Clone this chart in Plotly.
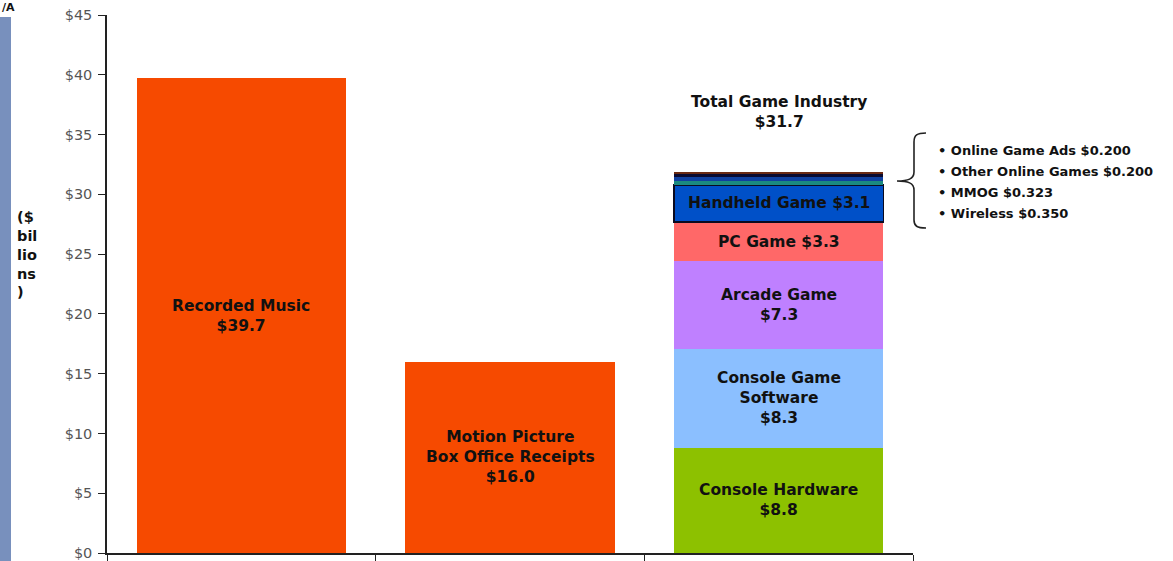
import plotly.graph_objects as go

# Entertainment revenues, $ billions
categories = ["Recorded Music", "Motion Picture Box Office Receipts", "Total Game Industry"]
media_values = [39.7, 16.0]
media_labels = ["Recorded Music<br>$39.7", "Motion Picture<br>Box Office Receipts<br>$16.0"]

game_segments = ["Console Hardware", "Console Game Software", "Arcade Game", "PC Game",
                 "Handheld Game", "Wireless", "MMOG", "Other Online Games", "Online Game Ads"]
game_values = [8.8, 8.3, 7.3, 3.3, 3.1, 0.350, 0.323, 0.200, 0.200]
game_colors = ["#8dc100", "#8bbfff", "#bf80ff", "#ff6868", "#0050c8",
               "#1a8a80", "#1040a0", "#0a0a30", "#6b2a12"]
game_labels = ["Console Hardware<br>$8.8", "Console Game<br>Software<br>$8.3",
               "Arcade Game<br>$7.3", "PC Game $3.3", "Handheld Game $3.1"]
online_items = ["Online Game Ads $0.200", "Other Online Games $0.200",
                "MMOG $0.323", "Wireless $0.350"]
game_total = 31.7

y_ticks = [0, 5, 10, 15, 20, 25, 30, 35, 40, 45]

FONT = "DejaVu Sans"
W, H = 1173, 561
L, R, T, B = 107, 260, 15, 8
plot_w = W - L - R
y_top_px, y_bot_px = T, H - B

fig = go.Figure()

fig.add_trace(go.Bar(
    x=categories[:2], y=media_values, marker=dict(color="#f64a00", line=dict(width=0)),
    width=0.78, hoverinfo="skip", showlegend=False,
))

for name, val, col in zip(game_segments, game_values, game_colors):
    line = dict(color="#0a0a20", width=1.5) if name == "Handheld Game" else dict(width=0)
    fig.add_trace(go.Bar(
        x=[categories[2]], y=[val], name=name, marker=dict(color=col, line=line),
        width=0.78, hoverinfo="skip", showlegend=False,
    ))

annotations = []
label_font = dict(family=FONT, size=15.5, color="#111111")

# labels centred in the two media bars
for cat, val, txt in zip(categories[:2], media_values, media_labels):
    annotations.append(dict(x=cat, y=val / 2, text="<b>%s</b>" % txt, showarrow=False,
                            font=label_font, xref="x", yref="y"))

# labels centred in the main game segments
base = 0.0
for val, txt in zip(game_values, game_labels):
    annotations.append(dict(x=categories[2], y=base + val / 2, text="<b>%s</b>" % txt,
                            showarrow=False, font=label_font, xref="x", yref="y"))
    base += val

stack_top = sum(game_values)
annotations.append(dict(x=categories[2], y=stack_top, yshift=60, yanchor="middle",
                        text="<b>Total Game Industry<br>$%.1f</b>" % game_total,
                        showarrow=False, font=label_font, xref="x", yref="y"))


def px_to_paper_x(px):
    return (px - L) / plot_w


def px_to_paper_y(py):
    return (y_bot_px - py) / (y_bot_px - y_top_px)


# bulleted list of the small online / wireless segments
for k, item in enumerate(online_items):
    annotations.append(dict(x=px_to_paper_x(936), y=px_to_paper_y(150 + k * 21.3),
                            xref="paper", yref="paper", xanchor="left", yanchor="middle",
                            text="<b>\u2022 %s</b>" % item, showarrow=False,
                            font=dict(family=FONT, size=13, color="#111111")))

# y-axis title, broken into short lines
annotations.append(dict(x=px_to_paper_x(15), y=px_to_paper_y(254), xref="paper", yref="paper",
                        xanchor="left", yanchor="middle", align="left",
                        text="<b>($<br>bil<br>lio<br>ns<br>)</b>", showarrow=False,
                        font=dict(family=FONT, size=14.5, color="#111111")))

annotations.append(dict(x=px_to_paper_x(0), y=px_to_paper_y(8), xref="paper", yref="paper",
                        xanchor="left", yanchor="middle", text="<b>/A</b>", showarrow=False,
                        font=dict(family=FONT, size=11, color="#111111")))

# curly brace pointing at the thin top segments
bx = px_to_paper_x
by = px_to_paper_y
brace = (
    "M {a},{t} C {b},{t} {c},{t1} {c},{t2} "
    "L {c},{m1} C {c},{mm} {d},{mid} {tip},{mid} "
    "C {d},{mid} {c},{mm2} {c},{m2} "
    "L {c},{b2} C {c},{b1} {b},{bt} {a},{bt}"
).format(a=bx(926), b=bx(917), c=bx(914), d=bx(908), tip=bx(897),
         t=by(133), t1=by(135), t2=by(142), m1=by(172), mm=by(179), mid=by(181),
         mm2=by(183), m2=by(190), b2=by(220), b1=by(226), bt=by(228))

shapes = [
    dict(type="rect", xref="paper", yref="paper", x0=px_to_paper_x(0), x1=px_to_paper_x(11),
         y0=px_to_paper_y(561), y1=px_to_paper_y(17), fillcolor="#7890bd", line=dict(width=0),
         layer="below"),
    dict(type="path", xref="paper", yref="paper", path=brace,
         line=dict(color="#222222", width=1.6)),
]

fig.update_layout(
    width=W, height=H, barmode="stack",
    margin=dict(l=L, r=R, t=T, b=B, pad=0),
    paper_bgcolor="white", plot_bgcolor="white",
    annotations=annotations, shapes=shapes, showlegend=False,
    xaxis=dict(type="category", categoryorder="array", categoryarray=categories,
               range=[-0.5, 2.5], showticklabels=False, showgrid=False, zeroline=False,
               showline=True, linecolor="#222222", linewidth=1.5, automargin=False,
               ticks="outside", tickson="boundaries", ticklen=6, tickcolor="#222222"),
    yaxis=dict(range=[0, 45], tickvals=y_ticks, ticktext=["$%d" % v for v in y_ticks],
               showgrid=False, zeroline=False, showline=True, linecolor="#222222",
               linewidth=1.5, ticks="outside", ticklen=7, tickcolor="#222222",
               ticklabelstandoff=3, automargin=False, ticklabeloverflow="allow",
               tickfont=dict(family=FONT, size=14.5, color="#555555")),
)

fig.write_html("out.html")
